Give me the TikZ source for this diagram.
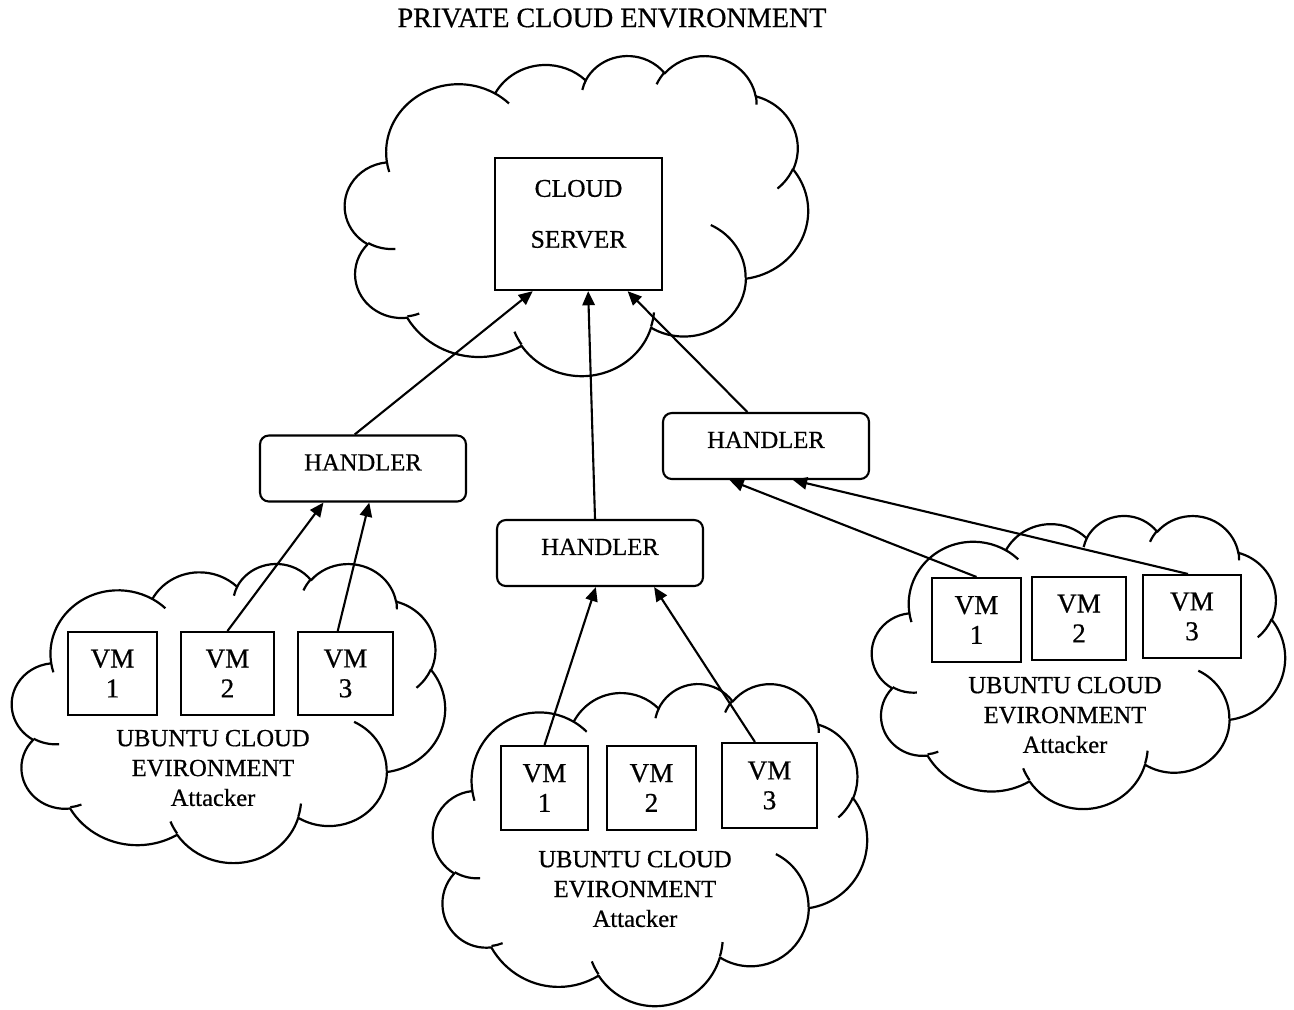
\documentclass[tikz,border=0pt]{standalone}
\usepackage{fontspec}
\setmainfont{Liberation Serif}[FakeBold=0.6]
\usetikzlibrary{arrows.meta,calc}
% Office-style cloud: arcs given with "visual" angles, converted to parametric angles
\newcommand\ocalc[4]{%
  \pgfmathsetmacro\oA{atan2((#1)*sin(#3),(#2)*cos(#3))}%
  \pgfmathsetmacro\oB{atan2((#1)*sin((#3)+(#4)),(#2)*cos((#3)+(#4)))}%
  \pgfmathsetmacro\oD{mod(\oB-(\oA)+720,360)}%
  \pgfmathsetmacro\oD{(#4)<0 ? \oD-360 : \oD}%
  \xdef\gA{\oA}\xdef\gD{\oD}}
\newcommand\oarc[4]{\pgfextra{\ocalc{#1}{#2}{#3}{#4}} arc[start angle=\gA, delta angle=\gD, x radius=#1, y radius=#2]}
\newcommand\officecloud[4]{%
\begin{scope}[shift={(#1,#2)},xscale=#3/43.2,yscale=#4/43.2]
\draw[cl] (3.9,14.37) \oarc{6.753}{9.190}{-190.4875}{123.7805}
  \oarc{5.333}{7.267}{-144.1024}{89.9452}
  \oarc{4.365}{5.945}{-145.8079}{99.7230}
  \oarc{4.857}{6.595}{-130.9861}{117.2417}
  \oarc{5.333}{7.273}{-78.7089}{109.0269}
  \oarc{6.775}{9.220}{-46.2673}{130.2690}
  \oarc{5.785}{7.867}{0.6250}{114.0333}
  \oarc{6.752}{9.215}{22.4516}{115.1726}
  \oarc{7.720}{10.543}{66.2426}{75.7110}
  \oarc{4.360}{5.918}{-274.9421}{146.7356}
  \oarc{4.345}{5.945}{-246.8285}{152.5189} -- cycle;
\draw[cl] (4.693,26.177) \oarc{4.345}{5.945}{86.742}{26.4295}
  (6.928,34.899) \oarc{4.360}{5.918}{73.6105}{11.4475}
  (16.478,39.090) \oarc{6.752}{9.215}{137.6242}{14.0811}
  (28.827,34.751) \oarc{6.752}{9.215}{6.4533}{15.9984}
  (34.129,22.954) \oarc{5.785}{7.867}{-70.2924}{70.9174}
  (41.798,15.354) \oarc{5.333}{7.273}{30.3180}{27.7515}
  (38.324,5.426) \oarc{4.857}{6.595}{-13.7443}{14.8589}
  (29.078,3.952) \oarc{4.857}{6.595}{-149.1815}{18.1954}
  (22.141,4.720) \oarc{4.365}{5.945}{-163.4943}{17.6864}
  (14.000,5.192) \oarc{6.753}{9.190}{-66.7070}{12.3194}
  (4.127,15.789) \oarc{6.753}{9.190}{157.6544}{11.8582};
\end{scope}}
\tikzset{
  cl/.style={line width=1.25pt, line join=round},
  srvbox/.style={draw, line width=1.35pt, inner sep=0pt},
  hbox/.style={draw, line width=1.2pt, rounded corners=5pt, minimum width=4.12cm,
    minimum height=1.32cm, inner sep=0pt, font=\fontsize{14}{17}\selectfont, text depth=7pt},
  vmbox/.style={draw, line width=1.2pt, inner sep=0pt, align=center,
    font=\fontsize{15.5}{17}\selectfont},
  lbl/.style={align=center, inner sep=0pt, font=\fontsize{14}{17}\selectfont},
  arr/.style={line width=1.2pt, -{Triangle[length=8pt,width=7pt]}},
}
\begin{document}
\begin{tikzpicture}[x=0.02cm,y=-0.02cm]
\fill[white] (0,0) rectangle (1294,1009);
\useasboundingbox (0,0) rectangle (1294,1009);

\node[font=\fontsize{16}{18}\selectfont, inner sep=0pt] (title) at (612,18) {PRIVATE CLOUD ENVIRONMENT};

% clouds
\officecloud{345}{55}{463}{320}
\officecloud{12}{563}{433}{299}
\officecloud{433}{683}{434}{322}
\officecloud{872}{515}{413}{293}

% server
\node[srvbox, minimum width=3.34cm, minimum height=2.64cm] (srv) at (578.5,224) {};
\node[lbl, font=\fontsize{14.5}{17}\selectfont] (srvt) at (578.5,214) {CLOUD\\[12pt]SERVER};

% handlers
\node[hbox] (lh) at (363,468.5) {HANDLER};
\node[hbox] (mh) at (600,553) {HANDLER};
\node[hbox] (rh) at (766,446) {HANDLER};

% left VMs
\node[vmbox, minimum width=1.78cm, minimum height=1.66cm] (l1) at (112.5,673.5) {VM\\1};
\node[vmbox, minimum width=1.86cm, minimum height=1.66cm] (l2) at (227.5,673.5) {VM\\2};
\node[vmbox, minimum width=1.90cm, minimum height=1.66cm] (l3) at (345.5,673.5) {VM\\3};
% middle VMs
\node[vmbox, minimum width=1.74cm, minimum height=1.68cm] (m1) at (544.5,788) {VM\\1};
\node[vmbox, minimum width=1.78cm, minimum height=1.68cm] (m2) at (651.5,788) {VM\\2};
\node[vmbox, minimum width=1.90cm, minimum height=1.70cm] (m3) at (769.5,785.5) {VM\\3};
% right VMs
\node[vmbox, minimum width=1.78cm, minimum height=1.68cm] (r1) at (976.5,620) {VM\\1};
\node[vmbox, minimum width=1.88cm, minimum height=1.66cm] (r2) at (1079,618.5) {VM\\2};
\node[vmbox, minimum width=1.96cm, minimum height=1.66cm] (r3) at (1192,616.5) {VM\\3};

% cloud labels
\node[lbl] (lt) at (213,768) {UBUNTU CLOUD\\EVIRONMENT\\Attacker};
\node[lbl] (mt) at (635,889) {UBUNTU CLOUD\\EVIRONMENT\\Attacker};
\node[lbl] (rt) at (1065,715) {UBUNTU CLOUD\\EVIRONMENT\\Attacker};

% connectors
\draw[arr] ($(lh.north west)!0.46!(lh.north east)$) -- ($(srv.south west)!0.23!(srv.south east)$);
\draw[arr] ($(mh.north west)!0.476!(mh.north east)$) -- ($(srv.south west)!0.557!(srv.south east)$);
\draw[arr] ($(rh.north west)!0.41!(rh.north east)$) -- ($(srv.south west)!0.79!(srv.south east)$);
\draw[arr] (l2.north) -- ($(lh.south west)!0.31!(lh.south east)$);
\draw[arr] ($(l3.north west)!0.42!(l3.north east)$) -- ($(lh.south west)!0.53!(lh.south east)$);
\draw[arr] (m1.north) -- ($(mh.south west)!0.48!(mh.south east)$);
\draw[arr] ($(m3.north west)!0.35!(m3.north east)$) -- ($(mh.south west)!0.76!(mh.south east)$);
\draw[arr] (r1.north) -- ($(rh.south west)!0.325!(rh.south east)$);
\draw[arr] ($(r3.north west)!0.46!(r3.north east)$) -- ($(rh.south west)!0.63!(rh.south east)$);
\end{tikzpicture}
\end{document}
